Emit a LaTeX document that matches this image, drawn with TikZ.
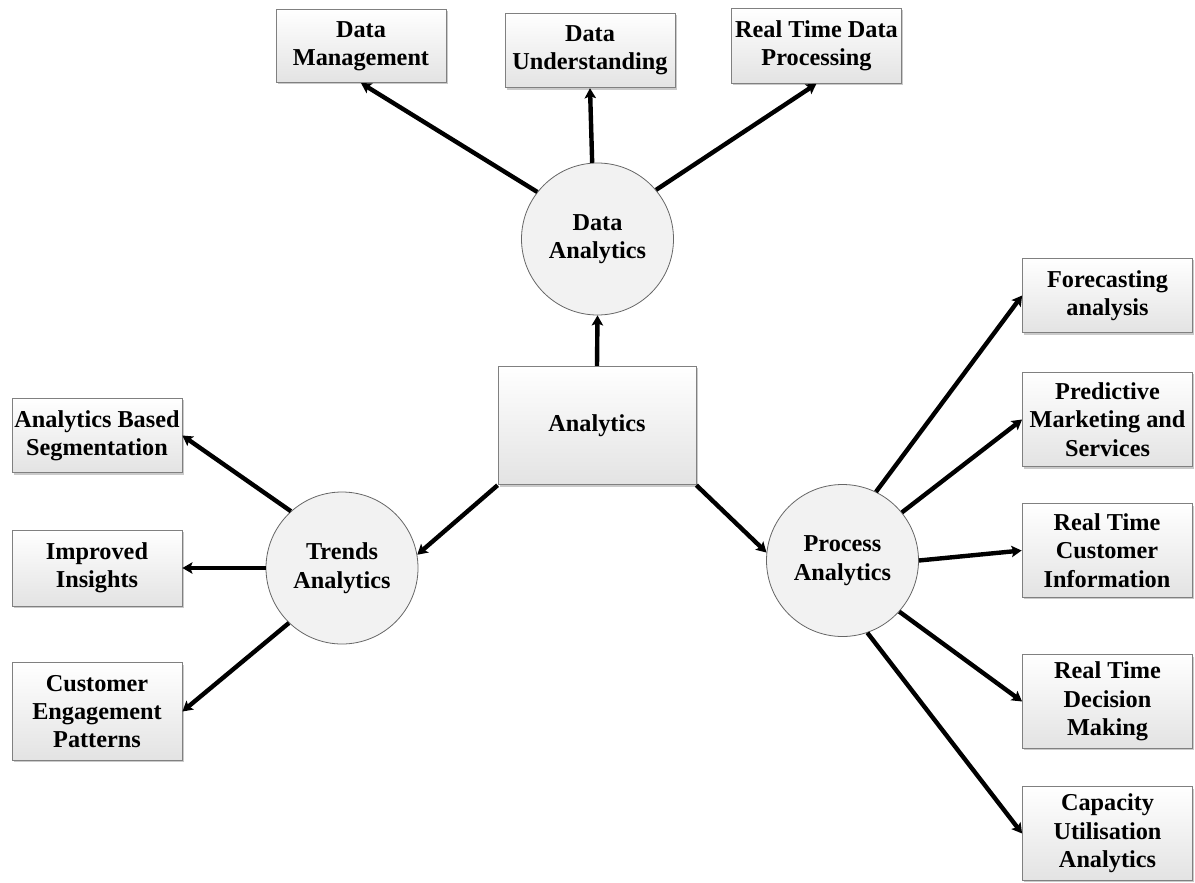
\documentclass[tikz,border=0pt]{standalone}
\usepackage{fontspec}
\setmainfont{Liberation Serif}
\usetikzlibrary{arrows.meta,shadows}
\begin{document}
\begin{tikzpicture}[x=0.75pt,y=-0.75pt,
  lbl/.style={font=\bfseries\fontsize{18.2}{21.3}\selectfont, align=center, text=black},
  box/.style={lbl, rectangle, draw=black!50, line width=0.6pt,
    top color=white, bottom color=black!11,
    minimum width=127.5pt, inner sep=0pt,
    drop shadow={shadow xshift=1.3pt, shadow yshift=-1.3pt, fill=black!35, opacity=0.6}},
  hub/.style={lbl, circle, draw=black!60, line width=0.6pt, fill=black!5,
    minimum size=114pt, inner sep=0pt},
  link/.style={line width=3.3pt, -{Stealth[length=7.5pt,width=8.5pt,inset=1.5pt]}}
]
\useasboundingbox (0,0) rectangle (1195,882);

% central box and the three hubs
\node[box, minimum width=148.5pt, minimum height=89pt] (an) at (597,425.5) {Analytics};
\node[hub] (da) at (597.5,239) {Data\\Analytics};
\node[hub] (ta) at (342,568) {Trends\\Analytics};
\node[hub] (pa) at (842.5,560.5) {Process\\Analytics};

% top row
\node[box, minimum height=55pt] (dm) at (361,46) {Data\\Management};
\node[box, minimum height=56pt] (du) at (590,50.5) {Data\\Understanding};
\node[box, minimum height=56pt] (rt) at (816.5,46) {Real Time Data\\Processing};

% left column
\node[box, minimum height=56pt] (abs) at (97,435.5) {Analytics Based\\Segmentation};
\node[box, minimum height=57pt] (ii) at (97,568) {Improved\\Insights};
\node[box, minimum height=73pt] (cep) at (97,711.5) {Customer\\Engagement\\Patterns};

% right column
\node[box, minimum height=56pt] (fa) at (1107.5,295.5) {Forecasting\\analysis};
\node[box, minimum height=71pt] (pm) at (1107.5,419.5) {Predictive\\Marketing and\\Services};
\node[box, minimum height=70pt] (rc) at (1107,550.5) {Real Time\\Customer\\Information};
\node[box, minimum height=70pt] (rd) at (1107.5,701.5) {Real Time\\Decision\\Making};
\node[box, minimum height=70pt] (cu) at (1107.5,833.5) {Capacity\\Utilisation\\Analytics};

% connectors
\draw[link] (an.north) -- (da.south);
\draw[link] (an.south west) -- (ta.10);
\draw[link] (an.south east) -- (pa.174);

\draw[link] (da.142) -- (dm.south);
\draw[link] (da.94) -- (du.south);
\draw[link] (da.40) -- (rt.south);

\draw[link] (ta.132) -- (abs.east);
\draw[link] (ta.180) -- (ii.east);
\draw[link] (ta.226) -- (cep.east);

\draw[link] (pa.64) -- (fa.west);
\draw[link] (pa.39) -- (pm.west);
\draw[link] (pa.0) -- (rc.west);
\draw[link] (pa.-42) -- (rd.west);
\draw[link] (pa.-71) -- (cu.west);
\end{tikzpicture}
\end{document}
